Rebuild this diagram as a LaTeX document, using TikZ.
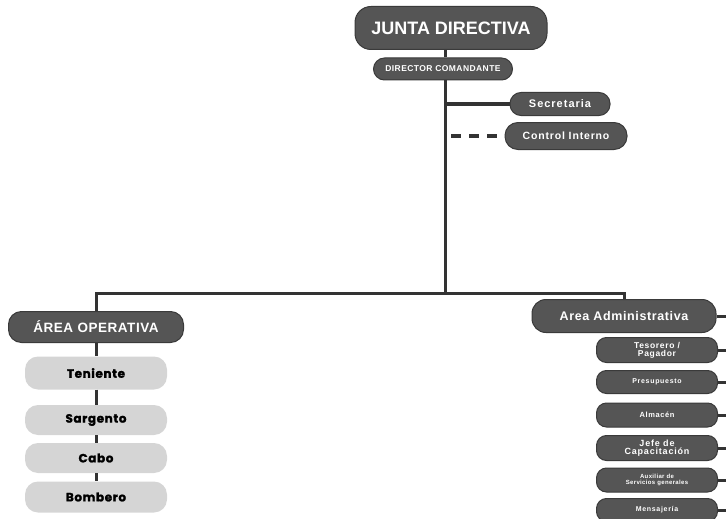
\documentclass[tikz,border=0pt]{standalone}
\usepackage{fontspec}
\setmainfont{Liberation Sans}
\newfontfamily\heavyfont{Poppins}[BoldFeatures={FakeBold=1.5}]
\definecolor{boxdark}{HTML}{555555}
\definecolor{boxedge}{HTML}{3A3A3A}
\definecolor{boxlight}{HTML}{D5D5D5}
\definecolor{linec}{HTML}{333333}
\begin{document}
\begin{tikzpicture}[x=1pt,y=-1pt,
  darkbox/.style={draw=boxedge, line width=1pt, fill=boxdark, text=white, rounded corners=11pt, inner sep=0pt, align=center},
  lightbox/.style={draw=none, fill=boxlight, text=black, rounded corners=13pt, inner sep=0pt, minimum width=142pt,
    font=\heavyfont\bfseries\fontsize{12}{14}\selectfont\addfontfeature{LetterSpace=5}},
  subbox/.style={darkbox, minimum width=121pt, rounded corners=10pt},
  conn/.style={draw=linec, line width=3pt},
  dashconn/.style={draw=linec, line width=4pt, dash pattern=on 10pt off 8pt}]
\useasboundingbox (0,0) rectangle (726,519);
% top
\node[darkbox, minimum width=192pt, minimum height=43pt, rounded corners=16pt,
  font=\bfseries\fontsize{18}{20}\selectfont] (jd) at (451,28) {JUNTA DIRECTIVA};
\node[darkbox, minimum width=139pt, minimum height=22pt,
  font=\bfseries\fontsize{8.5}{10}\selectfont\addfontfeature{LetterSpace=5}] (dc) at (443,69) {DIRECTOR COMANDANTE};
\node[darkbox, minimum width=100pt, minimum height=23pt,
  font=\bfseries\fontsize{11}{12}\selectfont\addfontfeature{LetterSpace=9}] (sec) at (560,104) {Secretaria};
\node[darkbox, minimum width=122pt, minimum height=27pt, rounded corners=13pt,
  font=\bfseries\fontsize{10.5}{12}\selectfont\addfontfeature{LetterSpace=8}] (ci) at (566,136) {Control Interno};
\coordinate (jn) at (445,293);
% left branch
\node[darkbox, minimum width=175pt, minimum height=31pt, rounded corners=13pt,
  font=\bfseries\fontsize{13.5}{15}\selectfont\addfontfeature{LetterSpace=4}] (ao) at (96,327) {ÁREA OPERATIVA};
\node[lightbox, minimum height=33pt] (ten) at (96,373) {Teniente};
\node[lightbox, minimum height=30pt] (sar) at (96,420) {Sargento};
\node[lightbox, minimum height=30pt] (cab) at (96,458) {Cabo};
\node[lightbox, minimum height=31pt] (bom) at (96,497) {Bombero};
% right branch
\node[darkbox, minimum width=184pt, minimum height=33pt, rounded corners=14pt,
  font=\bfseries\fontsize{12.5}{14}\selectfont\addfontfeature{LetterSpace=5}] (aa) at (624,316) {Area Administrativa};
\node[subbox, minimum height=25pt, font=\bfseries\fontsize{8.5}{8}\selectfont\addfontfeature{LetterSpace=8}] (tes) at (657,350) {Tesorero /\\Pagador};
\node[subbox, minimum height=23pt, font=\bfseries\fontsize{7}{7}\selectfont\addfontfeature{LetterSpace=10}] (pre) at (657,382) {Presupuesto};
\node[subbox, minimum height=24pt, font=\bfseries\fontsize{7.5}{8}\selectfont\addfontfeature{LetterSpace=8}] (alm) at (657,415) {Almacén};
\node[subbox, minimum height=25pt, font=\bfseries\fontsize{9}{8.5}\selectfont\addfontfeature{LetterSpace=9}] (jef) at (657,448) {Jefe de\\Capacitación};
\node[subbox, minimum height=24pt, font=\bfseries\fontsize{6}{6}\selectfont\addfontfeature{LetterSpace=6}] (aux) at (657,480) {Auxiliar de\\Servicios generales};
\node[subbox, minimum height=23pt, font=\bfseries\fontsize{7}{7}\selectfont\addfontfeature{LetterSpace=10}] (men) at (657,510) {Mensajería};
\foreach \n in {aa,tes,pre,alm,jef,aux,men}{
  \coordinate (\n-r) at (726,0 |- \n.east);
}
% connectors
\draw[conn] (dc.north -| jn) -- (jd.south -| jn);
\draw[conn] (dc.south -| jn) -- (jn);
\draw[conn] (sec.west) -- (sec.west -| jn);
\draw[dashconn] ([xshift=-8pt]ci.west) -- ([xshift=2pt]ci.west -| jn);
\draw[conn] (ao.north) |- (jn) -| (aa.north);
\draw[conn] (ao.south) -- (ten.north);
\draw[conn] (ten.south) -- (sar.north);
\draw[conn] (sar.south) -- (cab.north);
\draw[conn] (cab.south) -- (bom.north);
\foreach \n in {aa,tes,pre,alm,jef,aux,men}{
  \draw[conn] (\n.east) -- (\n-r);
}
\end{tikzpicture}
\end{document}
